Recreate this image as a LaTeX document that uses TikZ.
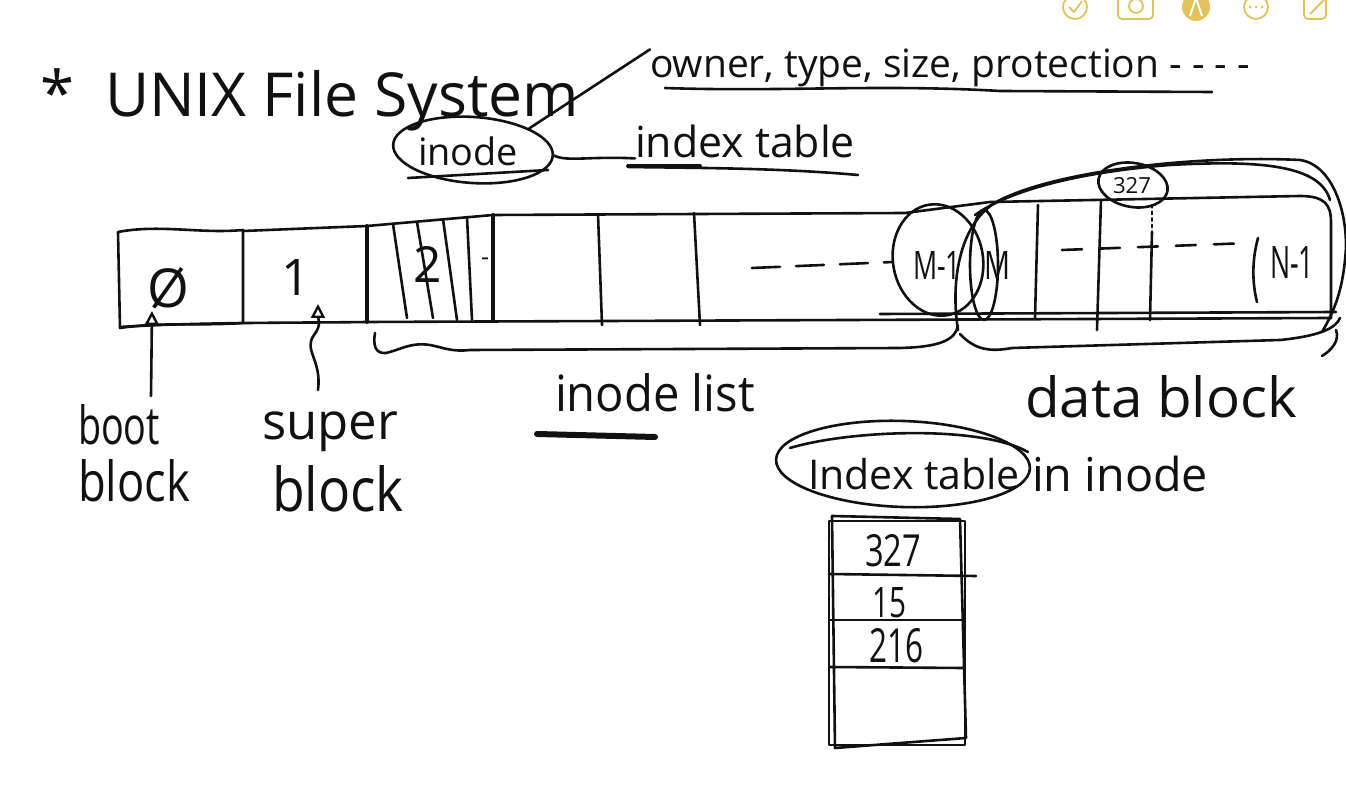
\documentclass[tikz,border=0pt]{standalone}
\usepackage{fontspec}
\setmainfont{Open Sans}
\usetikzlibrary{arrows.meta,shapes.geometric}
\newcommand{\hww}[2]{\resizebox{#1}{!}{#2}}
\newcommand{\hwh}[2]{\resizebox{!}{#1}{#2}}
\newcommand{\hwb}[3]{\resizebox{#1}{#2}{#3}}
\definecolor{gold}{HTML}{E2C35A}
\definecolor{ink}{HTML}{111111}
\begin{document}
\begin{tikzpicture}[x=0.5pt,y=-0.5pt,
  pen/.style={draw=ink,line width=1.3pt,line cap=round,line join=round},
  thickpen/.style={pen,line width=1.9pt},
  lbl/.style={inner sep=0pt,outer sep=0pt,text=ink},
  ring/.style={pen,ellipse,inner sep=0pt},
  tip/.style={-{Triangle[open,length=7pt,width=7pt,line width=1.2pt]}},
  icon/.style={draw=gold,line width=0.9pt}]
\useasboundingbox (0,0) rectangle (1346,796);
\fill[white] (0,0) rectangle (1346,796);

% toolbar icons (cut at the top edge)
\draw[icon] (1075,7) circle[radius=12];
\draw[icon] (1069,7) -- (1074,12) -- (1082,1);
\draw[icon,rounded corners=2pt] (1118,-6) rectangle (1153,19);
\draw[icon] (1136,6) circle[radius=7];
\fill[gold] (1196,7) circle[radius=14];
\draw[white,line width=1pt] (1190,16) -- (1196,-2) -- (1202,16);
\draw[icon] (1256,7) circle[radius=12];
\fill[gold] (1250,7) circle[radius=1.5] (1256,7) circle[radius=1.5] (1262,7) circle[radius=1.5];
\draw[icon,rounded corners=2pt] (1304,-6) rectangle (1326,19);
\draw[icon] (1310,14) -- (1324,0);

% title
\node[lbl] (star) at (57,92) {\hww{17pt}{*}};
\node[lbl,anchor=base west] (title) at (105,117) {\hww{237pt}{UNIX File System}};

% attributes
\node[lbl,anchor=base west] (attrs) at (650,78) {\hww{300pt}{owner, type, size, protection - - - -}};
\draw[pen] (665,88) .. controls (780,92) and (880,84) .. (1000,91) -- (1212,92);

% inode bubble
\node[lbl,anchor=base west] (inodetxt) at (418,166) {\hww{50pt}{inode}};
\draw[pen] (408,178) -- (548,170);
\node[ring,minimum width=80pt,minimum height=33pt,rotate=-4] (inode) at (473,150) {};
\draw[pen] (inode.25) -- (attrs.north west);

% index table label
\node[lbl,anchor=base west] (idx) at (635,158) {\hww{110pt}{index table}};
\draw[pen] (inode.east) .. controls (568,162) and (590,156) .. (idx.south west);
\draw[thickpen] (628,166) -- (700,166);
\draw[pen] (628,167) .. controls (700,168) and (780,168) .. (858,175);

% bar
\draw[pen] (118,232) .. controls (160,224) and (200,234) .. (243,230) -- (243,323)
  .. controls (200,326) and (160,322) .. (120,328) -- cycle;
\draw[pen] (243,231) -- (367,226) -- (493,215) -- (905,213) -- (990,202) -- (1300,196)
  .. controls (1325,196) and (1331,205) .. (1331,222) -- (1331,318);
\draw[pen] (120,327) .. controls (200,322) and (300,323) .. (367,322) -- (1331,318);
\draw[pen] (880,314) -- (1336,312);
\draw[thickpen] (367,226) -- (367,322);
\draw[pen] (393,224) -- (407,318);
\draw[pen] (417,222) -- (433,318);
\draw[pen] (443,219) -- (457,320);
\draw[pen] (467,217) -- (472,320);
\draw[thickpen] (493,215) -- (493,320);
\draw[pen] (598,214) -- (602,325);
\draw[pen] (694,213) -- (700,325);
\draw[pen] (1038,205) -- (1035,318);
\draw[pen] (1101,200) -- (1097,330);
\draw[pen] (1152,232) -- (1150,320);
\draw[pen,dotted] (1152,205) -- (1152,232);
\draw[pen] (1258,238) .. controls (1252,260) and (1252,282) .. (1257,302);

% labels in the bar
\node[lbl] (n0) at (168,288) {\hwh{20pt}{Ø}};
\node[lbl] (n1) at (296,278) {\hwh{18pt}{1}};
\node[lbl] (n2) at (428,265) {\hwh{18pt}{2}};
\node[lbl] (n3) at (485,262) {\hww{4pt}{-}};
\node[lbl] (nM1) at (937,266) {\hwb{24pt}{14pt}{M-1}};
\node[lbl] (nM) at (997,266) {\hwb{13pt}{14pt}{M}};
\node[lbl] (nN1) at (1292,263) {\hwb{22pt}{16pt}{N-1}};
\draw[pen,dash pattern=on 14pt off 8pt] (752,268) -- (893,262);
\draw[pen,dash pattern=on 10pt off 9pt] (1062,250) -- (1250,243);

% circles around M-1 / M and the data block
\node[ring,minimum width=45pt,minimum height=56pt,rotate=10] (cM1) at (938,260) {};
\node[ring,minimum width=14pt,minimum height=55pt] (cM) at (984,265) {};
\node[ring,minimum width=35pt,minimum height=22pt,rotate=-10] (c327) at (1133,185) {};
\node[lbl] (n327) at (1132,186) {\hww{19pt}{327}};
\draw[pen] (958,330) .. controls (950,280) and (960,220) .. (1000,200)
  .. controls (1060,170) and (1200,155) .. (1300,160)
  .. controls (1335,165) and (1350,220) .. (1345,260)
  .. controls (1342,290) and (1335,310) .. (1322,332);
\draw[pen] (975,215) .. controls (1010,190) and (1080,172) .. (1170,165)
  .. controls (1260,160) and (1320,165) .. (1330,200);

% braces
\draw[pen] (375,333) .. controls (373,345) and (375,354) .. (386,353)
  .. controls (400,350) and (410,342) .. (430,345)
  .. controls (445,348) and (452,352) .. (470,350) -- (900,348)
  .. controls (940,347) and (955,340) .. (958,326);
\draw[pen] (960,334) .. controls (975,350) and (990,352) .. (1012,348)
  -- (1280,340) .. controls (1320,336) and (1336,328) .. (1340,318);
\draw[pen] (1336,330) .. controls (1340,340) and (1332,350) .. (1322,356);

% boot block / super block
\node[lbl,anchor=base west] (boot1) at (78,445) {\hwb{41pt}{20pt}{boot}};
\node[lbl,anchor=base west] (boot2) at (78,502) {\hwb{56pt}{21pt}{block}};
\coordinate (bootfoot) at (151,396);
\coordinate (boottip) at (152,311);
\draw[pen,tip] (bootfoot) -- (boottip);
\node[lbl,anchor=base west] (super1) at (262,440) {\hww{68pt}{super}};
\node[lbl,anchor=base west] (super2) at (272,512) {\hwb{66pt}{23pt}{block}};
\coordinate (superfoot) at (318,390);
\coordinate (supertip) at (318,304);
\draw[pen,tip] (superfoot) .. controls (322,360) and (303,350) .. (314,335)
  .. controls (322,325) and (318,318) .. (supertip);

% inode list / data block
\node[lbl,anchor=base west] (ilist) at (555,412) {\hwb{100pt}{19pt}{inode list}};
\draw[line width=3pt,ink,line cap=round] (537,434) -- (655,437);
\node[lbl,anchor=base west] (dblock) at (1025,418) {\hwb{136pt}{21pt}{data block}};

% index table in inode
\node[lbl,anchor=base west] (itl) at (808,490) {\hww{106pt}{Index table}};
\node[lbl,anchor=base west] (itin) at (1032,492) {\hww{88pt}{in inode}};
\node[ring,minimum width=127pt,minimum height=43pt,rotate=-2] (citl) at (903,464) {};
\draw[pen] (790,448) .. controls (850,430) and (980,425) .. (1028,452);

% index table
\node[pen,draw,minimum width=68pt,minimum height=112pt,inner sep=0pt] (itab) at (897,633) {};
\draw[pen] (832,516) -- (960,519) -- (966,738) -- (835,748) -- cycle;
\draw[pen] (829,574) -- (976,576);
\draw[pen] (829,620) -- (963,620);
\draw[pen] (829,667) -- (963,668);
\node[lbl] (v1) at (893,551) {\hwb{28pt}{16pt}{327}};
\node[lbl] (v2) at (889,603) {\hwb{17pt}{15pt}{15}};
\node[lbl] (v3) at (896,646) {\hwb{27pt}{17pt}{216}};
\end{tikzpicture}
\end{document}
